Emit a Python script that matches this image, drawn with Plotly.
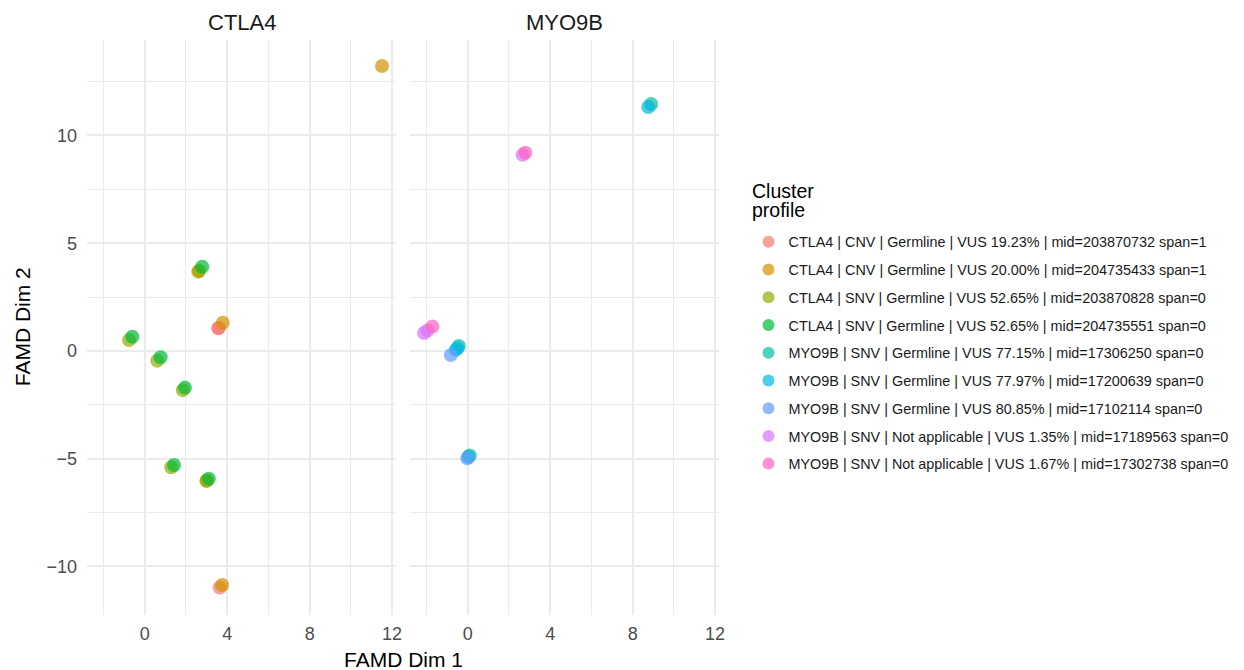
import plotly.graph_objects as go

# ---- data ----
group_labels = [
    "CTLA4 | CNV | Germline | VUS 19.23% | mid=203870732 span=1",
    "CTLA4 | CNV | Germline | VUS 20.00% | mid=204735433 span=1",
    "CTLA4 | SNV | Germline | VUS 52.65% | mid=203870828 span=0",
    "CTLA4 | SNV | Germline | VUS 52.65% | mid=204735551 span=0",
    "MYO9B | SNV | Germline | VUS 77.15% | mid=17306250 span=0",
    "MYO9B | SNV | Germline | VUS 77.97% | mid=17200639 span=0",
    "MYO9B | SNV | Germline | VUS 80.85% | mid=17102114 span=0",
    "MYO9B | SNV | Not applicable | VUS 1.35% | mid=17189563 span=0",
    "MYO9B | SNV | Not applicable | VUS 1.67% | mid=17302738 span=0",
]
group_genes = ["CTLA4", "CTLA4", "CTLA4", "CTLA4", "MYO9B", "MYO9B", "MYO9B", "MYO9B", "MYO9B"]
group_colors = ["#F8766D", "#D39200", "#93AA00", "#00BA38", "#00C19F",
                "#00B9E3", "#619CFF", "#DB72FB", "#FF61C3"]

ctla4_cnv_1923_x = [3.56, 3.60, 3.64]
ctla4_cnv_1923_y = [1.05, 1.08, -10.98]
ctla4_cnv_2000_x = [3.79, 3.76, 11.51, 2.60, 3.00]
ctla4_cnv_2000_y = [1.31, -10.86, 13.22, 3.68, -6.02]
ctla4_snv_203870828_x = [-0.76, 0.61, 1.85, 1.29, 2.64, 3.00]
ctla4_snv_203870828_y = [0.51, -0.45, -1.82, -5.40, 3.72, -6.02]
ctla4_snv_204735551_x = [-0.60, 0.77, 1.95, 1.42, 2.79, 3.11]
ctla4_snv_204735551_y = [0.66, -0.29, -1.70, -5.29, 3.91, -5.93]
myo9b_7715_x = [-0.43, 0.10, 8.90]
myo9b_7715_y = [0.23, -4.85, 11.46]
myo9b_7797_x = [-0.58, -0.50, 0.03, 8.76]
myo9b_7797_y = [0.05, 0.12, -4.92, 11.32]
myo9b_8085_x = [-0.82, -0.02]
myo9b_8085_y = [-0.19, -4.98]
myo9b_135_x = [-2.12, -1.95, 2.66]
myo9b_135_y = [0.83, 0.95, 9.10]
myo9b_167_x = [-1.71, 2.80]
myo9b_167_y = [1.13, 9.20]

group_x = [ctla4_cnv_1923_x, ctla4_cnv_2000_x, ctla4_snv_203870828_x, ctla4_snv_204735551_x,
           myo9b_7715_x, myo9b_7797_x, myo9b_8085_x, myo9b_135_x, myo9b_167_x]
group_y = [ctla4_cnv_1923_y, ctla4_cnv_2000_y, ctla4_snv_203870828_y, ctla4_snv_204735551_y,
           myo9b_7715_y, myo9b_7797_y, myo9b_8085_y, myo9b_135_y, myo9b_167_y]

panels = ["CTLA4", "MYO9B"]
x_tickvals = [0, 4, 8, 12]
x_minor = [-2, 2, 6, 10]
y_tickvals = [-10, -5, 0, 5, 10]
y_ticktext = ["\u221210", "\u22125", "0", "5", "10"]
y_minor = [-12.5, -7.5, -2.5, 2.5, 7.5, 12.5]

FONT = "Liberation Sans, Arial, sans-serif"
# the page body has an 8px margin, so the figure is drawn 8px in from the window edge
OFF = 8
W, H = 1244 - OFF, 670 - OFF


def fx(px):  # window pixel x -> paper fraction
    return (px - OFF) / W


def fy(py):  # window pixel y -> paper fraction
    return 1 - (py - OFF) / H


fig = go.Figure()
for lab, gene, col, xs, ys in zip(group_labels, group_genes, group_colors, group_x, group_y):
    p = panels.index(gene)
    fig.add_trace(go.Scatter(
        x=xs, y=ys, mode="markers", name=lab, legendgroup=lab,
        xaxis="x" if p == 0 else "x2", yaxis="y" if p == 0 else "y2",
        marker=dict(color=col, size=14, opacity=0.7, line=dict(width=0)),
        showlegend=True,
    ))

dom1 = [fx(87), fx(396)]
dom2 = [fx(410), fx(719)]
ydom = [fy(614.5), fy(40)]

grid = "#EBEBEB"
tickfont = dict(family=FONT, size=18, color="#4D4D4D")
xaxis_common = dict(
    range=[-2.8, 12.19], tickvals=x_tickvals, ticktext=[str(v) for v in x_tickvals],
    showgrid=True, gridcolor=grid, gridwidth=2, zeroline=False, showline=False,
    ticks="", tickfont=tickfont, automargin=False, ticklabelstandoff=6,
    minor=dict(tickvals=x_minor, showgrid=True, gridcolor=grid, gridwidth=1),
    fixedrange=True,
)
yaxis_common = dict(
    range=[-12.23, 14.43], tickvals=y_tickvals, ticktext=y_ticktext,
    showgrid=True, gridcolor=grid, gridwidth=2, zeroline=False, showline=False,
    ticks="", tickfont=tickfont, automargin=False, ticklabelstandoff=9,
    minor=dict(tickvals=y_minor, showgrid=True, gridcolor=grid, gridwidth=1),
    fixedrange=True,
)
fig.update_layout(
    width=W, height=H,
    margin=dict(l=0, r=0, t=0, b=0, autoexpand=False),
    paper_bgcolor="white", plot_bgcolor="white",
    font=dict(family=FONT, color="#1A1A1A"),
    xaxis=dict(domain=dom1, anchor="y", **xaxis_common),
    xaxis2=dict(domain=dom2, anchor="y2", **xaxis_common),
    yaxis=dict(domain=ydom, anchor="x", **yaxis_common),
    yaxis2=dict(domain=ydom, anchor="x2", showticklabels=False, **yaxis_common),
    showlegend=True,
    legend=dict(
        x=fx(748.5), xanchor="left", y=fy(226), yanchor="top",
        font=dict(family=FONT, size=14.4, color="#1A1A1A"),
        tracegroupgap=6, itemsizing="constant",
        bgcolor="rgba(0,0,0,0)",
    ),
)

ann = []
ann.append(dict(text="CTLA4", x=(dom1[0] + dom1[1]) / 2, y=fy(22), xref="paper", yref="paper",
                showarrow=False, font=dict(family=FONT, size=22, color="#1A1A1A"),
                xanchor="center", yanchor="middle"))
ann.append(dict(text="MYO9B", x=(dom2[0] + dom2[1]) / 2, y=fy(22), xref="paper", yref="paper",
                showarrow=False, font=dict(family=FONT, size=22, color="#1A1A1A"),
                xanchor="center", yanchor="middle"))
ann.append(dict(text="FAMD Dim 1", x=(dom1[0] + dom2[1]) / 2, y=fy(659), xref="paper", yref="paper",
                showarrow=False, font=dict(family=FONT, size=21, color="#000000"),
                xanchor="center", yanchor="middle"))
ann.append(dict(text="FAMD Dim 2", x=fx(22), y=(ydom[0] + ydom[1]) / 2, xref="paper", yref="paper",
                showarrow=False, textangle=-90, font=dict(family=FONT, size=21, color="#000000"),
                xanchor="center", yanchor="middle"))
# legend title, two tight lines as in the reference
ann.append(dict(text="Cluster", x=fx(750), y=fy(191), xref="paper", yref="paper",
                showarrow=False, font=dict(family=FONT, size=19.5, color="#000000"),
                xanchor="left", yanchor="middle"))
ann.append(dict(text="profile", x=fx(750), y=fy(210), xref="paper", yref="paper",
                showarrow=False, font=dict(family=FONT, size=19.5, color="#000000"),
                xanchor="left", yanchor="middle"))
fig.update_layout(annotations=ann)

fig.write_html("out.html")
